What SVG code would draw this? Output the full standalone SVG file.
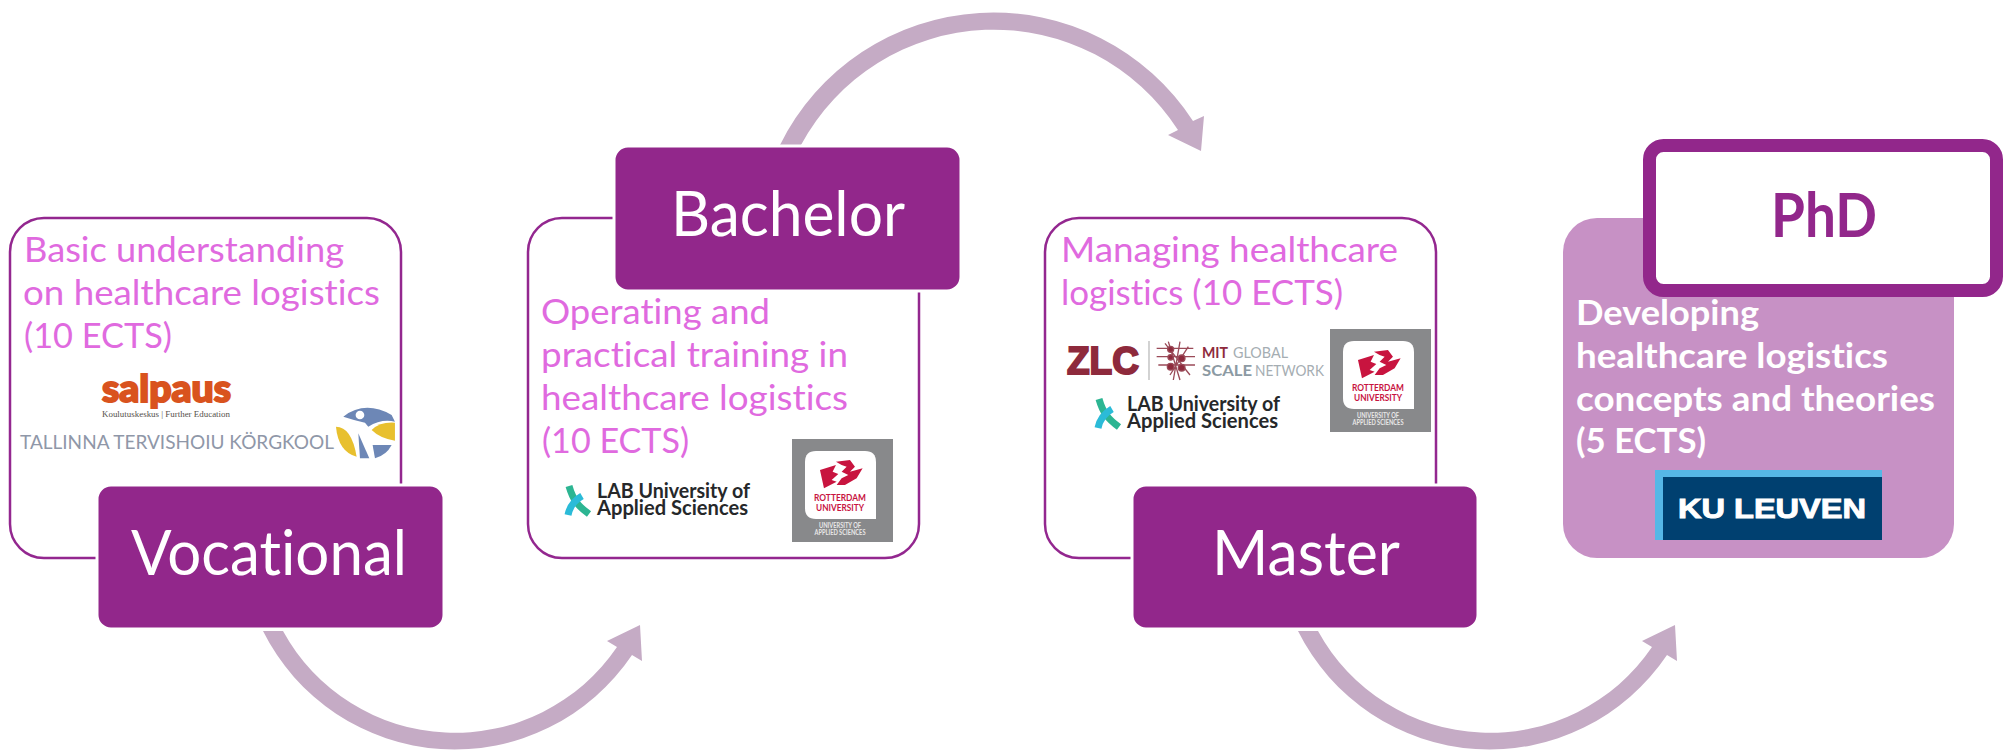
<svg xmlns="http://www.w3.org/2000/svg" xmlns:xlink="http://www.w3.org/1999/xlink" width="2005" height="750" viewBox="0 0 2005 750">
<style>
text{font-family:"Lato","Liberation Sans",sans-serif;font-variant-ligatures:none}
.card{fill:#fff;stroke:#93278f;stroke-width:2.5}
.head{fill:#92278b;stroke:#fff;stroke-width:3}
.lab{fill:#fff;font-size:62px}
.body{fill:#e06adf;font-size:35px}
.bodyw{fill:#fff;font-size:35px;font-weight:700}
.arrow{fill:#c5abc5}
.labt{fill:#26282a;font-size:21px;font-weight:700}
.ru{fill:#c8143f;font-size:9px;font-weight:700;text-anchor:middle}
.ruw{fill:#e8e8e8;font-size:7.5px;font-weight:700;text-anchor:middle}
</style>
<defs>
<g id="labLogo">
<path d="M569,486 C573,500 578,506 589,514" fill="none" stroke="#2cb592" stroke-width="7"/>
<path d="M568,515 C570,505 575,500 582,496" fill="none" stroke="#2bbbd8" stroke-width="7"/>
<text class="labt" x="597" y="498" textLength="153" lengthAdjust="spacingAndGlyphs">LAB University of</text>
<text class="labt" x="597" y="515" textLength="151" lengthAdjust="spacingAndGlyphs">Applied Sciences</text>
</g>
<g id="ruLogo">
<rect x="792" y="439" width="101" height="103" fill="#88898b"/>
<path d="M816,451 H865 Q876,451 876,462 V519 H816 Q805,519 805,508 V462 Q805,451 816,451 Z" fill="#fff"/>
<g transform="translate(520,400) scale(.3333)" fill="#c8143f">
<path d="M900,210 L948,195 L938,215 L955,222 L935,240 L950,245 L912,265 Z"/>
<path d="M948,185 L990,180 L1005,200 L990,215 L1028,205 L1010,235 L975,255 L950,255 L965,235 L985,225 L965,215 L980,200 L965,195 Z"/>
</g>
<text class="ru" x="840" y="501" textLength="52" lengthAdjust="spacingAndGlyphs">ROTTERDAM</text>
<text class="ru" x="840" y="511" textLength="48" lengthAdjust="spacingAndGlyphs">UNIVERSITY</text>
<text class="ruw" x="840" y="528" textLength="42" lengthAdjust="spacingAndGlyphs">UNIVERSITY OF</text>
<text class="ruw" x="840" y="535" textLength="51" lengthAdjust="spacingAndGlyphs">APPLIED SCIENCES</text>
</g>
</defs>

<g id="connectors" class="arrow">
<path id="arrow-vocational-bachelor" d="M263,631 A214,214 0 0 0 632,655 L642,661 L640,625 L607,641 L617,647 A196,196 0 0 1 283,631 Z"/>
<path id="arrow-bachelor-master" d="M780,150 L780,145 A238,238 0 0 1 1193,121 L1204,116 L1201,151 L1168,135 L1178,130 A219,219 0 0 0 801,145 L801,150 Z"/>
<path id="arrow-master-phd" transform="translate(1035,0)" d="M263,631 A214,214 0 0 0 632,655 L642,661 L640,625 L607,641 L617,647 A196,196 0 0 1 283,631 Z"/>
</g>

<g id="node-vocational">
<rect class="card" x="10" y="218" width="391" height="340" rx="34"/>
<text class="body" x="24" y="262" textLength="320" lengthAdjust="spacingAndGlyphs">Basic understanding</text>
<text class="body" x="23" y="305" textLength="357" lengthAdjust="spacingAndGlyphs">on healthcare logistics</text>
<text class="body" x="24" y="348" textLength="148" lengthAdjust="spacingAndGlyphs">(10 ECTS)</text>
<text x="102" y="402" fill="#d9531e" stroke="#d9531e" stroke-width="2" font-size="38" font-weight="900" textLength="129" lengthAdjust="spacingAndGlyphs">salpaus</text>
<text x="102" y="417" fill="#55504c" font-size="8" style="font-family:'Liberation Serif',serif" textLength="128" lengthAdjust="spacingAndGlyphs">Koulutuskeskus | Further Education</text>
<text x="20" y="449" fill="#8f97a8" font-size="20" textLength="314" lengthAdjust="spacingAndGlyphs">TALLINNA TERVISHOIU KÖRGKOOL</text>
<g transform="translate(0,200) scale(.3333)">
<path d="M1030,650 Q1095,600 1175,645 L1185,665 Q1145,655 1105,680 L1095,668 Q1060,660 1030,650 Z" fill="#6d87b6"/>
<circle cx="1080" cy="645" r="13" fill="#fff"/>
<path d="M1075,700 L1108,775 H1080 Z" fill="#6d87b6"/>
<path d="M1008,680 Q1055,680 1070,770 Q1015,755 1008,680 Z" fill="#e8c02e"/>
<path d="M1115,690 Q1140,665 1185,668 L1185,722 Q1140,715 1115,690 Z" fill="#e8c02e"/>
<path d="M1125,775 L1118,735 L1175,735 Q1160,765 1125,775 Z" fill="#6d87b6"/>
</g>
<rect class="head" x="97" y="485" width="347" height="144" rx="14"/>
<text class="lab" x="131" y="575" textLength="276" lengthAdjust="spacingAndGlyphs">Vocational</text>
</g>

<g id="node-bachelor">
<rect class="card" x="528" y="218" width="391" height="340" rx="34"/>
<text class="body" x="541" y="324" textLength="229" lengthAdjust="spacingAndGlyphs">Operating and</text>
<text class="body" x="541" y="367" textLength="307" lengthAdjust="spacingAndGlyphs">practical training in</text>
<text class="body" x="541" y="410" textLength="307" lengthAdjust="spacingAndGlyphs">healthcare logistics</text>
<text class="body" x="542" y="453" textLength="147" lengthAdjust="spacingAndGlyphs">(10 ECTS)</text>
<use xlink:href="#labLogo" href="#labLogo"/>
<use xlink:href="#ruLogo" href="#ruLogo"/>
<rect class="head" x="614" y="146" width="347" height="145" rx="14"/>
<text class="lab" x="671" y="236" textLength="234" lengthAdjust="spacingAndGlyphs">Bachelor</text>
</g>

<g id="node-master">
<rect class="card" x="1045" y="218" width="391" height="340" rx="34"/>
<text class="body" x="1061" y="262" textLength="337" lengthAdjust="spacingAndGlyphs">Managing healthcare</text>
<text class="body" x="1061" y="305" textLength="282" lengthAdjust="spacingAndGlyphs">logistics (10 ECTS)</text>
<text x="1067" y="374" fill="#8e2a3c" font-size="38" font-weight="900" stroke="#8e2a3c" stroke-width="2" style="font-family:'Liberation Sans',sans-serif" textLength="72" lengthAdjust="spacingAndGlyphs">ZLC</text>
<line x1="1149" y1="341" x2="1149" y2="380" stroke="#b5b5b5" stroke-width="1.2"/>
<g transform="translate(1040,300) scale(.3333)" stroke="#9a4a58" stroke-width="4" fill="#8e2a3c">
<path d="M350,145 H460 M350,170 H465 M355,195 H465 M385,125 L420,240 M420,125 L400,240 M445,140 L390,225 M375,130 L450,225" fill="none"/>
<circle cx="392" cy="148" r="9"/><circle cx="425" cy="175" r="10"/><circle cx="392" cy="200" r="10"/><circle cx="425" cy="203" r="10"/><circle cx="392" cy="172" r="8"/>
</g>
<text x="1202" y="358" fill="#8e2a3c" font-size="15" font-weight="700" textLength="26" lengthAdjust="spacingAndGlyphs">MIT</text>
<text x="1233" y="358" fill="#a5adb2" font-size="15" textLength="55" lengthAdjust="spacingAndGlyphs">GLOBAL</text>
<text x="1202" y="376" fill="#8c9aa3" font-size="15" font-weight="700" textLength="50" lengthAdjust="spacingAndGlyphs">SCALE</text>
<text x="1255" y="376" fill="#a5adb2" font-size="15" textLength="69" lengthAdjust="spacingAndGlyphs">NETWORK</text>
<use xlink:href="#labLogo" href="#labLogo" transform="translate(530,-87)"/>
<use xlink:href="#ruLogo" href="#ruLogo" transform="translate(538,-110)"/>
<rect class="head" x="1132" y="485" width="346" height="144" rx="14"/>
<text class="lab" x="1212" y="575" textLength="188" lengthAdjust="spacingAndGlyphs">Master</text>
</g>

<g id="node-phd">
<rect x="1563" y="218" width="391" height="340" rx="34" fill="#c791c5"/>
<text class="bodyw" x="1576" y="325" textLength="183" lengthAdjust="spacingAndGlyphs">Developing</text>
<text class="bodyw" x="1576" y="368" textLength="312" lengthAdjust="spacingAndGlyphs">healthcare logistics</text>
<text class="bodyw" x="1576" y="411" textLength="359" lengthAdjust="spacingAndGlyphs">concepts and theories</text>
<text class="bodyw" x="1576" y="453" textLength="130" lengthAdjust="spacingAndGlyphs">(5 ECTS)</text>
<rect x="1655" y="470" width="227" height="70" fill="#56b7e6"/>
<rect x="1663" y="477" width="219" height="63" fill="#004070"/>
<text x="1678" y="518" fill="#fff" font-size="28" font-weight="700" stroke="#fff" stroke-width="1" style="font-family:'Liberation Sans',sans-serif" textLength="188" lengthAdjust="spacingAndGlyphs">KU LEUVEN</text>
<rect x="1649.5" y="145.5" width="347" height="145" rx="14" fill="#fff" stroke="#92278b" stroke-width="13"/>
<text x="1771" y="237" fill="#92278b" font-size="62" font-weight="700" textLength="106" lengthAdjust="spacingAndGlyphs">PhD</text>
</g>
</svg>
